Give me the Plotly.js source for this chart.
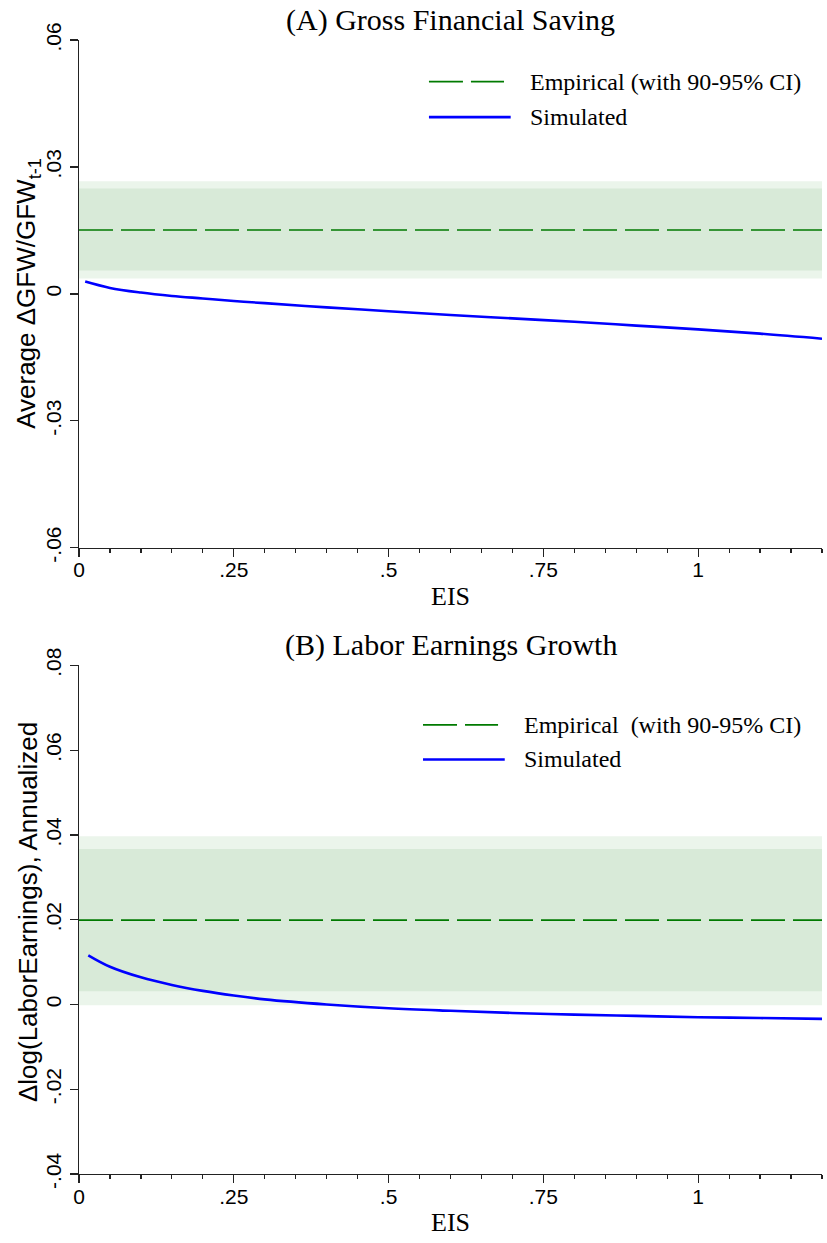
<!DOCTYPE html>
<html>
<head>
<meta charset="utf-8">
<script src="https://cdn.plot.ly/plotly-3.0.1.min.js"></script>
<style>html,body{margin:0;padding:0;background:#fff;}#chart{width:827px;height:1243px;}</style>
</head>
<body>
<div id="chart"></div>
<script>
// ---------- data ----------
var titleA = "(A) Gross Financial Saving";
var titleB = "(B) Labor Earnings Growth";
var xTitle = "EIS";
var yTitleA = "Average ΔGFW/GFW<sub>t-1</sub>";
var yTitleB = "Δlog(LaborEarnings), Annualized";
var legendLabelsA = ["Empirical (with 90-95% CI)", "Simulated"];
var legendLabelsB = ["Empirical  (with 90-95% CI)", "Simulated"];

var xRange = [0, 1.2];
var xTickVals = [0, 0.25, 0.5, 0.75, 1];
var xTickText = ["0", ".25", ".5", ".75", "1"];

var yTickValsA = [-0.06, -0.03, 0, 0.03, 0.06];
var yTickTextA = ["-.06", "-.03", "0", ".03", ".06"];
var yTickValsB = [-0.04, -0.02, 0, 0.02, 0.04, 0.06, 0.08];
var yTickTextB = ["-.04", "-.02", "0", ".02", ".04", ".06", ".08"];

// Panel A: empirical mean and confidence intervals
var meanA = 0.0151;
var ci90A = [0.0055, 0.0249];
var ci95A = [0.0036, 0.0266];
// Panel A: simulated
var eisA = [0.01, 0.05, 0.1, 0.15, 0.2, 0.25, 0.3, 0.4, 0.5, 0.6, 0.7, 0.8, 0.9, 1.0, 1.1, 1.2];
var simA = [0.0029, 0.0014, 0.0003, -0.0005, -0.0011, -0.0017, -0.0022, -0.0032, -0.0041, -0.0050, -0.0058, -0.0066, -0.0075, -0.0084, -0.0094, -0.0106];

// Panel B: empirical mean and confidence intervals
var meanB = 0.0199;
var ci90B = [0.0031, 0.0367];
var ci95B = [-0.0002, 0.0397];
// Panel B: simulated
var eisB = [0.015, 0.05, 0.1, 0.15, 0.2, 0.25, 0.3, 0.4, 0.5, 0.6, 0.7, 0.8, 0.9, 1.0, 1.1, 1.2];
var simB = [0.0116, 0.0089, 0.0064, 0.0046, 0.0032, 0.0021, 0.0012, 0.0000, -0.0009, -0.0015, -0.0020, -0.0024, -0.0027, -0.0030, -0.0032, -0.0034];

// ---------- styles ----------
var serif = "Liberation Serif, Times New Roman, serif";
var sans = "Liberation Sans, Arial, Helvetica, sans-serif";
var green = "#007a00";
var blue = "#0000ff";
var c95 = "#ebf5eb";
var c90 = "#d8ead8";
var dashPat = "34px,8px";

function band(lohi, color, xa, ya) {
  return {
    x: [xRange[0], xRange[1], xRange[1], xRange[0], xRange[0]],
    y: [lohi[0], lohi[0], lohi[1], lohi[1], lohi[0]],
    fill: "toself", fillcolor: color, mode: "lines", line: {width: 0, color: color},
    xaxis: xa, yaxis: ya, showlegend: false, hoverinfo: "skip"
  };
}
function hline(v, xa, ya) {
  return {
    x: xRange, y: [v, v], mode: "lines",
    line: {color: green, width: 1.6, dash: dashPat},
    xaxis: xa, yaxis: ya, showlegend: false
  };
}
function sim(x, y, xa, ya) {
  return {
    x: x, y: y, mode: "lines", line: {color: blue, width: 2.6, shape: "spline", smoothing: 1},
    xaxis: xa, yaxis: ya, showlegend: false
  };
}

var traces = [
  band(ci95A, c95, "x", "y"),
  band(ci90A, c90, "x", "y"),
  hline(meanA, "x", "y"),
  sim(eisA, simA, "x", "y"),
  band(ci95B, c95, "x2", "y2"),
  band(ci90B, c90, "x2", "y2"),
  hline(meanB, "x2", "y2"),
  sim(eisB, simB, "x2", "y2")
];

function xaxisDef(anchor) {
  return {
    range: xRange, anchor: anchor, showgrid: false, zeroline: false,
    showline: true, linecolor: "#222", linewidth: 1.3,
    ticks: "outside", ticklen: 8, tickwidth: 1.3, tickcolor: "#222",
    tickvals: xTickVals, ticktext: xTickText, ticklabelstandoff: -5,
    tickfont: {family: sans, size: 21, color: "#000"},
    minor: {dtick: 0.05, tick0: 0, ticks: "outside", ticklen: 4, tickwidth: 1.2, tickcolor: "#222", showgrid: false}
  };
}
function yaxisDef(anchor, dom, range, vals, text) {
  return {
    domain: dom, range: range, anchor: anchor, showgrid: false, zeroline: false,
    showline: true, linecolor: "#222", linewidth: 1.3,
    ticks: "outside", ticklen: 8, tickwidth: 1.3, tickcolor: "#222",
    tickvals: vals, ticktext: text, tickangle: -90,
    tickfont: {family: sans, size: 21, color: "#000"}
  };
}

function legendShapes(xref, yref, x0, x1dash, x1solid, y1, y2) {
  return [
    {type: "line", xref: xref, yref: yref, x0: x0, x1: x1dash, y0: y1, y1: y1,
     line: {color: green, width: 1.6, dash: dashPat}},
    {type: "line", xref: xref, yref: yref, x0: x0, x1: x1solid, y0: y2, y1: y2,
     line: {color: blue, width: 2.6}}
  ];
}
function legendText(xref, yref, x, y1, y2, labels) {
  return [
    {xref: xref, yref: yref, x: x, y: y1, text: labels[0], showarrow: false, xanchor: "left", yanchor: "middle",
     font: {family: serif, size: 24, color: "#000"}},
    {xref: xref, yref: yref, x: x, y: y2, text: labels[1], showarrow: false, xanchor: "left", yanchor: "middle",
     font: {family: serif, size: 24, color: "#000"}}
  ];
}

var shapes = []
  .concat(legendShapes("x domain", "y domain", 0.471, 0.572, 0.581, 0.918, 0.848))
  .concat(legendShapes("x2 domain", "y2 domain", 0.463, 0.564, 0.573, 0.883, 0.815));

var annotations = [
  {xref: "x domain", yref: "y domain", x: 0.5, y: 1, yshift: 20, text: titleA, showarrow: false,
   xanchor: "center", yanchor: "middle", font: {family: serif, size: 30, color: "#000"}},
  {xref: "x2 domain", yref: "y2 domain", x: 0.5, y: 1, yshift: 20, text: titleB, showarrow: false,
   xanchor: "center", yanchor: "middle", font: {family: serif, size: 30, color: "#000"}},
  {xref: "x domain", yref: "y domain", x: 0.5, y: 0, yshift: -49, text: xTitle, showarrow: false,
   xanchor: "center", yanchor: "middle", font: {family: serif, size: 26, color: "#000"}},
  {xref: "x2 domain", yref: "y2 domain", x: 0.5, y: 0, yshift: -48, text: xTitle, showarrow: false,
   xanchor: "center", yanchor: "middle", font: {family: serif, size: 26, color: "#000"}},
  {xref: "x domain", yref: "y domain", x: 0, xshift: -51, y: 0.5, text: yTitleA, showarrow: false, textangle: -90,
   xanchor: "center", yanchor: "middle", font: {family: sans, size: 26, color: "#000"}},
  {xref: "x2 domain", yref: "y2 domain", x: 0, xshift: -51, y: 0.515, text: yTitleB, showarrow: false, textangle: -90,
   xanchor: "center", yanchor: "middle", font: {family: sans, size: 26, color: "#000"}}
]
  .concat(legendText("x domain", "y domain", 0.604, 0.918, 0.848, legendLabelsA))
  .concat(legendText("x2 domain", "y2 domain", 0.596, 0.883, 0.815, legendLabelsB));

var layout = {
  width: 827, height: 1243,
  margin: {l: 79, r: 5, t: 40, b: 69},
  paper_bgcolor: "#fff", plot_bgcolor: "#fff",
  showlegend: false,
  xaxis: xaxisDef("y"),
  yaxis: yaxisDef("x", [0.5523, 1], [-0.06, 0.06], yTickValsA, yTickTextA),
  xaxis2: xaxisDef("y2"),
  yaxis2: yaxisDef("x2", [0, 0.4485], [-0.04, 0.08], yTickValsB, yTickTextB),
  shapes: shapes,
  annotations: annotations
};

Plotly.newPlot("chart", traces, layout, {displayModeBar: false, staticPlot: true});
</script>
</body>
</html>
